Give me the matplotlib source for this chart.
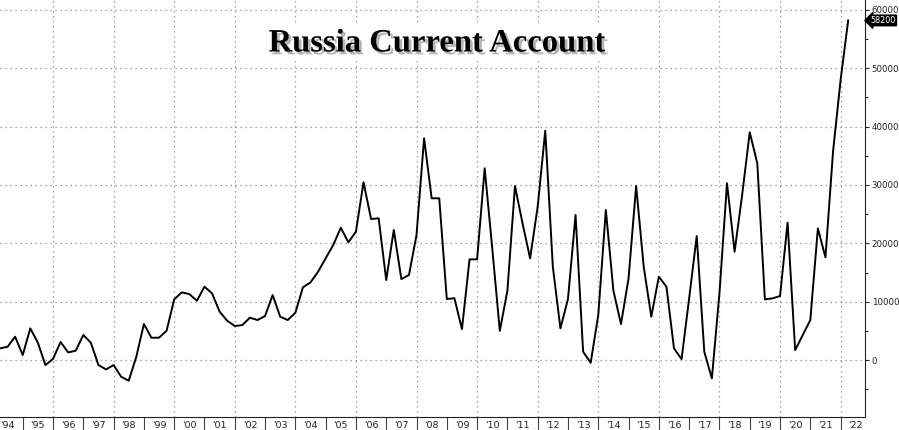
import numpy as np
import matplotlib
matplotlib.use('Agg')
import matplotlib.pyplot as plt
import matplotlib.patheffects as pe
from matplotlib.ticker import FixedLocator, MultipleLocator

# quarterly current account, USD mn, 1994Q1 .. 2022Q1
values = [2000, 2280, 4000, 860, 5430, 2970, -860, 200,
          3090, 1310, 1600, 4290, 2970, -860, -1600, -860,
          -2860, -3540, 570, 6170, 3830, 3830, 5030, 10400,
          11600, 11300, 10170, 12570, 11430, 8290, 6740, 5830,
          6000, 7260, 6860, 7540, 11140, 7430, 6860, 8110,
          12460, 13310, 15140, 17430, 19710, 22680, 20170, 22000,
          30460, 24170, 24290, 13710, 22290, 13880, 14570, 21430,
          38000, 27720, 27720, 10460, 10600, 5310, 17260, 17260,
          32860, 19150, 5000, 11880, 29830, 23430, 17430, 26290,
          39310, 16000, 5430, 10460, 24860, 1430, -460, 7710,
          25710, 11880, 6170, 14000, 29830, 16000, 7430, 14290,
          12570, 2000, 170, 10570, 21260, 1430, -3140, 11430,
          30290, 18570, 28290, 39030, 33710, 10400, 10570, 10970,
          23540, 1710, 4290, 6860, 22570, 17600, 35710, 48000,
          58200]
years = list(range(1994, 2023))
year_labels = ["'%02d" % (y % 100) for y in years]

# quarter-end dates
t = 1994.25 + 0.25 * np.arange(len(values))

fig = plt.figure(figsize=(8.99, 4.30), dpi=100)
ax = fig.add_axes([0.0, 0.031, 0.962, 0.969])

ax.plot(t, values, color='black', lw=1.4, zorder=3)

ax.set_xlim(1994.25, 2022.8)
ax.set_ylim(-9700, 61700)

# grid
for y in range(0, 60001, 10000):
    ax.axhline(y, color='#888888', lw=0.9, ls=(0, (1, 3)), zorder=1)
for yr in range(1996, 2023, 2):
    ax.axvline(yr, color='#888888', lw=0.9, ls=(0, (1, 3)), zorder=1)

# spines
ax.spines['left'].set_visible(False)
ax.spines['top'].set_visible(False)
ax.spines['right'].set_color('#222222')
ax.spines['bottom'].set_color('#222222')

# y axis on right
ax.yaxis.tick_right()
ax.yaxis.set_major_locator(FixedLocator(range(0, 60001, 10000)))
ax.yaxis.set_minor_locator(MultipleLocator(5000))
ax.tick_params(axis='y', which='major', length=3, width=0.8, pad=2,
               labelsize=6.2, colors='#222222')
ax.tick_params(axis='y', which='minor', length=2, width=0.8, colors='#222222')

# x axis: labels centred in year, separators at year boundaries
ax.xaxis.set_major_locator(FixedLocator([y + 0.5 for y in years]))
ax.set_xticklabels(year_labels)
ax.xaxis.set_minor_locator(FixedLocator(years))
ax.tick_params(axis='x', which='major', length=0, pad=3, labelsize=6.8,
               colors='#222222')
ax.tick_params(axis='x', which='minor', length=10, width=0.8, colors='#444444')

# last value tag
ax.annotate('58200', xy=(1.0, values[-1]), xycoords=('axes fraction', 'data'),
            xytext=(4, 0), textcoords='offset points', ha='left', va='center',
            fontsize=5.8, color='white', annotation_clip=False,
            bbox=dict(boxstyle='larrow,pad=0.1', fc='black', ec='black'))

# title with shadow
fig.text(0.486, 0.90, 'Russia Current Account', ha='center', va='center',
         fontsize=23.5, fontweight='bold', family='Liberation Serif', color='black',
         path_effects=[pe.withSimplePatchShadow(offset=(2, -2), shadow_rgbFace='#777777',
                                                alpha=0.55)],
         bbox=dict(fc='white', ec='none', pad=1), zorder=5)

fig.savefig('out.png', dpi=100)
